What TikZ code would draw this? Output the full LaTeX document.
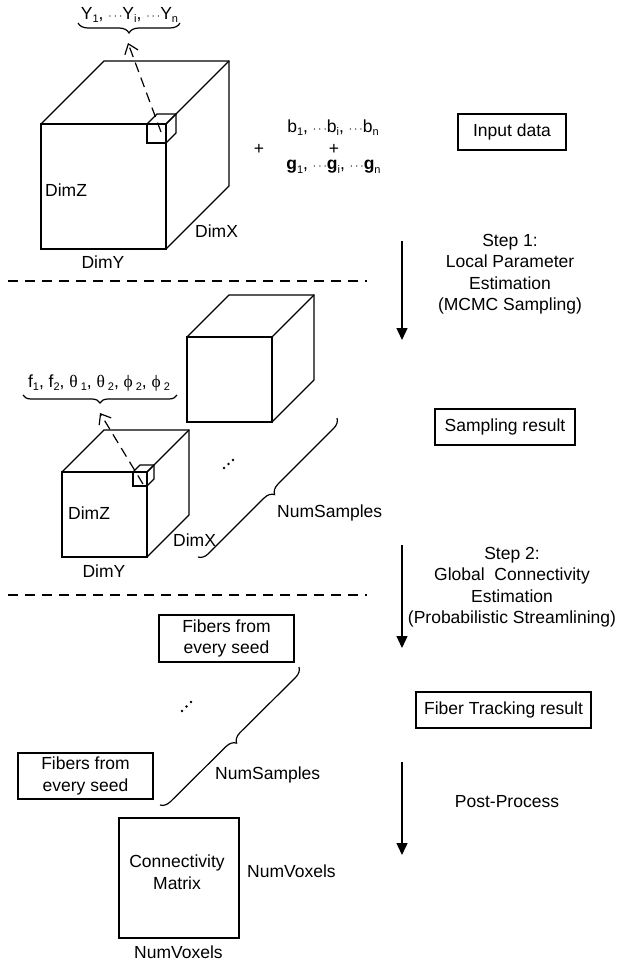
\documentclass[tikz,border=0pt]{standalone}
\usepackage{fontspec}
\setmainfont{Liberation Sans}
\newfontfamily\greekserif{Liberation Serif}
\usetikzlibrary{arrows.meta,decorations.pathreplacing}

% small lowered index, as in Y_1
\newcommand{\lowidx}[1]{\raisebox{-0.35ex}{\fontsize{11}{11}\selectfont #1}}
% compact centred ellipsis
\newcommand{\dts}{{\fontsize{11.5}{11.5}\selectfont\ensuremath{\cdots}}}
% wire-frame cube: front top-left corner (#1,#2), edge #3, depth offset #4
\newcommand{\drawcube}[4]{%
  \draw[edge] (#1,#2) rectangle ++(#3,#3);
  \draw[edge] (#1,#2) -- ++(#4,-#4) -- ++(#3,0) -- ++(0,#3) -- ++(-#4,#4);
  \draw[edge] (#1+#3,#2) -- ++(#4,-#4);}

\tikzset{
  every node/.style={font=\fontsize{17.5}{21.5}\selectfont, inner sep=0pt},
  edge/.style={line width=1.3pt, line join=miter},
  labelbox/.style={draw, line width=1.2pt, minimum height=36pt, align=center},
  sepline/.style={line width=1.2pt, dash pattern=on 10pt off 7pt},
  flow/.style={line width=1.4pt, -{Triangle[length=12pt,width=11pt]}},
  pick/.style={line width=1.2pt, dash pattern=on 10pt off 6pt,
               -{Straight Barb[length=9pt,width=14pt]}},
  grp/.style={line width=1.2pt, decorate, decoration={brace, amplitude=#1}},
}

\begin{document}
\begin{tikzpicture}[x=1pt, y=-1pt]
\useasboundingbox (0,0) rectangle (618,965);

% ---------------- input data ----------------
\drawcube{41}{124}{125}{63}
\drawcube{147}{124}{19}{10}
\node (ylist) at (129.5,15) {Y\lowidx{1}, \dts Y\lowidx{i}, \dts Y\lowidx{n}};
\draw[grp=10pt] (180,23) -- (78,23);
\coordinate (ysrc) at (161,132);
\coordinate (ytip) at (128,43);
\draw[pick] (ysrc) -- (ytip);

\node[anchor=west] (dz1) at (45,190) {DimZ};
\node[anchor=west] (dx1) at (195,231) {DimX};
\node (dy1) at (103,262) {DimY};

\node (blist) at (333,128) {b\lowidx{1}, \dts b\lowidx{i}, \dts b\lowidx{n}};
\node (plusA) at (259,149) {+};
\node (plusB) at (334,149) {+};
\node (glist) at (333.5,167) {\textbf{g}\lowidx{1}, \dts\textbf{g}\lowidx{i}, \dts\textbf{g}\lowidx{n}};

\node[labelbox, minimum width=108pt] (input) at (512,132) {Input data};

\coordinate (sepAl) at (8,281);
\coordinate (sepAr) at (367,281);
\draw[sepline] (sepAl) -- (sepAr);

\coordinate (s1a) at (402,241);
\coordinate (s1b) at (402,340);
\draw[flow] (s1a) -- (s1b);
\node[align=center] (step1) at (510,274) {Step 1:\\Local Parameter\\Estimation\\(MCMC Sampling)};

% ---------------- sampling result ----------------
\drawcube{187}{337}{85}{42}
\drawcube{62}{472}{85}{42}
\drawcube{133}{472}{14}{7}
\node (flist) at (99,383) {f\lowidx{1}, f\lowidx{2}, {\greekserif θ}\,\lowidx{1}, {\greekserif θ}\,\lowidx{2}, {\greekserif ϕ}\,\lowidx{2}, {\greekserif ϕ}\,\lowidx{2}};
\draw[grp=8pt] (177,395) -- (23,395);
\coordinate (fsrc) at (143,484);
\coordinate (ftip) at (100,413);
\draw[pick] (fsrc) -- (ftip);

\fill (224,468) circle (1.3pt) (228.5,464) circle (1.3pt) (233,460) circle (1.3pt);
\draw[grp=10pt] (337,418) -- (198,557);
\node[anchor=west] (ns1) at (277,513) {NumSamples};

\node[anchor=west] (dz2) at (68,513) {DimZ};
\node[anchor=west] (dx2) at (173,540) {DimX};
\node (dy2) at (104,571) {DimY};

\node[labelbox, minimum width=140pt] (samp) at (505,427) {Sampling result};

\coordinate (sepBl) at (8,595);
\coordinate (sepBr) at (367,595);
\draw[sepline] (sepBl) -- (sepBr);

\coordinate (s2a) at (402,545);
\coordinate (s2b) at (402,648);
\draw[flow] (s2a) -- (s2b);
\node[align=center] (step2) at (512,587) {Step 2:\\Global\ \ Connectivity\\Estimation\\(Probabilistic Streamlining)};

% ---------------- fiber tracking ----------------
\node[labelbox, minimum width=135pt, minimum height=47pt] (fibA) at (226.5,638.5) {Fibers from\\every seed};
\node[labelbox, minimum width=135pt, minimum height=46pt] (fibB) at (85.5,776) {Fibers from\\every seed};
\fill (182,711) circle (1.3pt) (186.5,706.5) circle (1.3pt) (191,702) circle (1.3pt);
\draw[grp=10pt] (299,667) -- (160,805);
\node[anchor=west] (ns2) at (215,775) {NumSamples};

\node[labelbox, minimum width=175pt] (track) at (503.5,710) {Fiber Tracking result};

\coordinate (s3a) at (402,762);
\coordinate (s3b) at (402,855);
\draw[flow] (s3a) -- (s3b);
\node (post) at (507,802) {Post-Process};

% ---------------- connectivity matrix ----------------
\node[draw, line width=1.2pt, minimum width=120pt, minimum height=120pt] (cmat) at (179,878) {};
\node[align=center] (cmtext) at (177,872) {Connectivity\\Matrix};
\node[anchor=west] (nvr) at (247,871) {NumVoxels};
\node (nvb) at (178.5,952) {NumVoxels};
\end{tikzpicture}
\end{document}
